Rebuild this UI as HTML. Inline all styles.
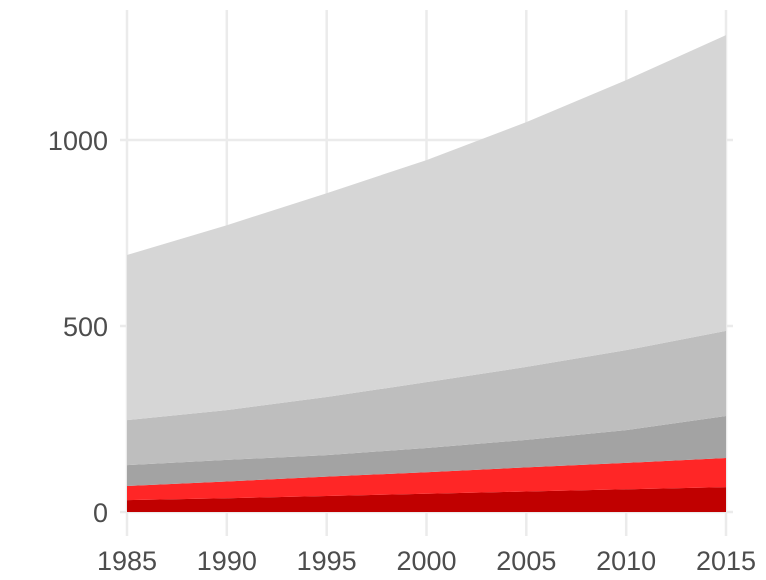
<!DOCTYPE html>
<html><head><meta charset="utf-8"><style>
body{margin:0;background:#fff}
svg text{font-family:"Liberation Sans",sans-serif;font-size:27px;fill:#4d4d4d}
</style></head><body>
<svg id="c" width="766" height="575"></svg>
<script>
const years=[1985,1990,1995,2000,2005,2010,2015];
const seriesNames=["dark-red","red","dark-gray","mid-gray","light-gray"];
const darkRed=[32,37,43,49,55,61,67];
const red=[38,45,52,58,65,71,78];
const darkGray=[56,58,58,65,74,88,113];
const midGray=[121,134,156,177,196,215,229];
const lightGray=[444,497,548,597,658,726,795];
const yTicks=[0,500,1000];
const xTicks=[1985,1990,1995,2000,2005,2010,2015];
const colors=["#c00000","#ff2626","#a3a3a3","#bebebe","#d6d6d6"];
const NS="http://www.w3.org/2000/svg";
const svg=document.getElementById('c');
const x=v=>127+(v-1985)*(599/30);
const y=v=>512-v*0.372;
function mk(t,a){const e=document.createElementNS(NS,t);for(const k in a)e.setAttribute(k,a[k]);svg.appendChild(e);return e;}
yTicks.forEach(t=>{
  const l=mk('line',{x1:120,x2:733,y1:y(t),y2:y(t),stroke:'#ebebeb','stroke-width':2.5});
  
  
  const tx=mk('text',{x:108,y:y(t)+10,'text-anchor':'end'});tx.textContent=t;
  
  
});
xTicks.forEach(t=>{
  const l=mk('line',{x1:x(t),x2:x(t),y1:10,y2:536,stroke:'#ebebeb','stroke-width':2.5});
  
  
  const tx=mk('text',{x:x(t),y:570,'text-anchor':'middle'});tx.textContent=t;
  
  
});
const layers=[darkRed,red,darkGray,midGray,lightGray];
let base=years.map(()=>0);
layers.forEach((arr,i)=>{
  const top=base.map((b,j)=>b+arr[j]);
  let d=years.map((yr,j)=>(j?'L':'M')+x(yr)+','+y(top[j])).join('');
  for(let j=years.length-1;j>=0;j--)d+='L'+x(years[j])+','+y(base[j]);
  const p=mk('path',{d:d+'Z',fill:colors[i]});
  
  
  base=top;
});
</script>
</body></html>
